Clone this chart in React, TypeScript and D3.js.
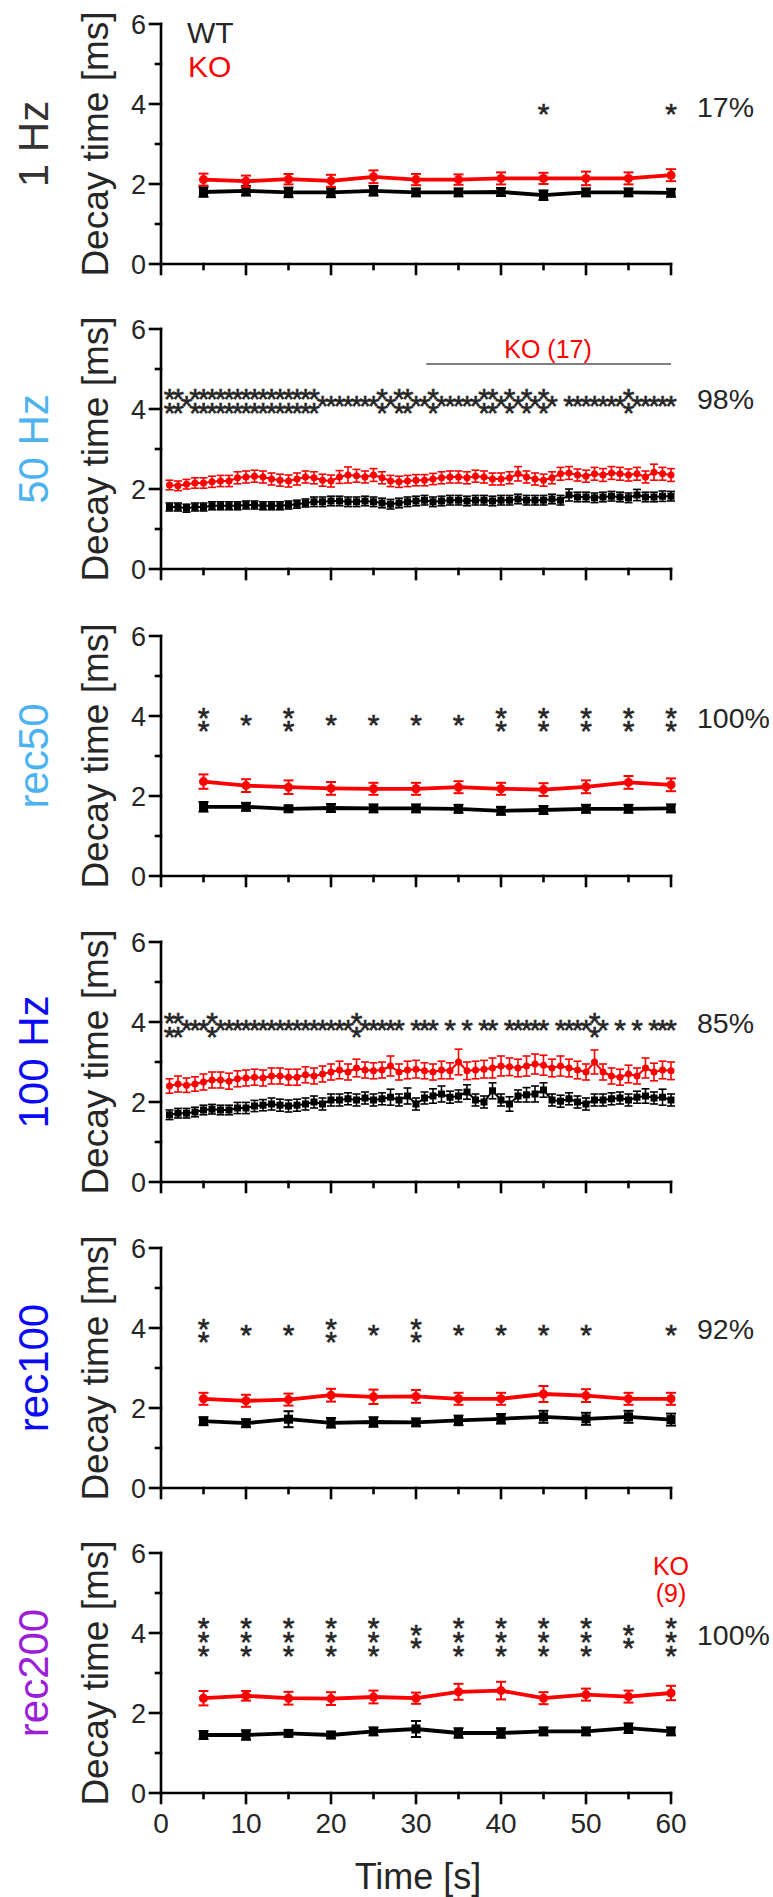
import React from 'react';
import * as d3 from 'd3';

const FONT = '"Liberation Sans", Arial, sans-serif';
const INK = '#262626';
const RED = '#ff0000';

// ---- time points ----
const TIME_5S = [5, 10, 15, 20, 25, 30, 35, 40, 45, 50, 55, 60];
const TIME_1S = [
  1, 2, 3, 4, 5, 6, 7, 8, 9, 10, 11, 12, 13, 14, 15, 16, 17, 18, 19, 20,
  21, 22, 23, 24, 25, 26, 27, 28, 29, 30, 31, 32, 33, 34, 35, 36, 37, 38, 39, 40,
  41, 42, 43, 44, 45, 46, 47, 48, 49, 50, 51, 52, 53, 54, 55, 56, 57, 58, 59, 60,
];

// ---- axis ticks ----
const X_MAJOR = [0, 10, 20, 30, 40, 50, 60];
const X_MINOR = [5, 15, 25, 35, 45, 55];
const Y_MAJOR = [0, 2, 4, 6];
const Y_MINOR = [1, 3, 5];

// ---- 1 Hz ----
const HZ1_WT = [1.80, 1.83, 1.79, 1.79, 1.83, 1.79, 1.79, 1.80, 1.72, 1.79, 1.79, 1.78];
const HZ1_WT_ERR = [0.12, 0.12, 0.12, 0.12, 0.12, 0.1, 0.1, 0.1, 0.12, 0.1, 0.1, 0.1];
const HZ1_KO = [2.11, 2.07, 2.12, 2.08, 2.18, 2.11, 2.11, 2.14, 2.14, 2.14, 2.14, 2.22];
const HZ1_KO_ERR = [0.15, 0.14, 0.13, 0.15, 0.16, 0.14, 0.13, 0.15, 0.14, 0.17, 0.15, 0.15];
const HZ1_SIG = [0, 0, 0, 0, 0, 0, 0, 0, 1, 0, 0, 1];

// ---- 50 Hz ----
const HZ50_WT = [
  1.55, 1.55, 1.52, 1.55, 1.55, 1.58, 1.58, 1.58, 1.58, 1.60,
  1.60, 1.58, 1.58, 1.58, 1.60, 1.62, 1.65, 1.68, 1.68, 1.70,
  1.70, 1.68, 1.68, 1.70, 1.68, 1.65, 1.62, 1.65, 1.68, 1.70,
  1.72, 1.68, 1.70, 1.72, 1.72, 1.70, 1.72, 1.72, 1.70, 1.72,
  1.72, 1.75, 1.72, 1.72, 1.72, 1.75, 1.72, 1.85, 1.80, 1.80,
  1.78, 1.80, 1.82, 1.80, 1.78, 1.85, 1.80, 1.80, 1.82, 1.82,
];
const HZ50_WT_ERR = [
  0.1, 0.1, 0.1, 0.1, 0.1, 0.1, 0.1, 0.1, 0.1, 0.1,
  0.1, 0.1, 0.1, 0.1, 0.1, 0.1, 0.1, 0.12, 0.12, 0.12,
  0.12, 0.12, 0.12, 0.12, 0.12, 0.12, 0.12, 0.12, 0.12, 0.12,
  0.12, 0.12, 0.12, 0.12, 0.12, 0.12, 0.12, 0.12, 0.12, 0.12,
  0.12, 0.12, 0.12, 0.12, 0.12, 0.12, 0.12, 0.15, 0.12, 0.12,
  0.12, 0.12, 0.12, 0.12, 0.12, 0.14, 0.12, 0.12, 0.13, 0.12,
];
const HZ50_KO = [
  2.10, 2.08, 2.12, 2.15, 2.15, 2.18, 2.20, 2.20, 2.28, 2.30,
  2.32, 2.30, 2.25, 2.22, 2.20, 2.25, 2.30, 2.28, 2.22, 2.20,
  2.30, 2.35, 2.33, 2.30, 2.35, 2.28, 2.20, 2.18, 2.20, 2.22,
  2.22, 2.25, 2.28, 2.30, 2.30, 2.28, 2.32, 2.30, 2.25, 2.25,
  2.28, 2.38, 2.30, 2.25, 2.22, 2.28, 2.38, 2.40, 2.35, 2.32,
  2.38, 2.35, 2.40, 2.38, 2.35, 2.38, 2.30, 2.42, 2.38, 2.35,
];
const HZ50_KO_ERR = [
  0.12, 0.12, 0.12, 0.13, 0.13, 0.14, 0.14, 0.14, 0.15, 0.15,
  0.15, 0.15, 0.15, 0.15, 0.15, 0.15, 0.15, 0.15, 0.15, 0.15,
  0.16, 0.2, 0.16, 0.15, 0.16, 0.15, 0.14, 0.14, 0.14, 0.14,
  0.14, 0.14, 0.15, 0.15, 0.15, 0.15, 0.15, 0.15, 0.15, 0.15,
  0.15, 0.18, 0.15, 0.15, 0.15, 0.15, 0.16, 0.16, 0.15, 0.15,
  0.16, 0.16, 0.16, 0.16, 0.15, 0.16, 0.15, 0.2, 0.16, 0.16,
];
const HZ50_SIG = [
  2, 2, 1, 2, 2, 2, 2, 2, 2, 2, 2, 2, 2, 2, 2, 2, 2, 2, 1, 1,
  1, 1, 1, 1, 1, 2, 1, 2, 2, 1, 1, 2, 1, 1, 1, 1, 1, 2, 2, 1,
  2, 1, 2, 1, 2, 1, 0, 1, 1, 1, 1, 1, 1, 1, 2, 1, 1, 1, 1, 1,
];

// ---- rec50 ----
const REC50_WT = [1.73, 1.73, 1.68, 1.70, 1.69, 1.69, 1.68, 1.63, 1.65, 1.68, 1.68, 1.69];
const REC50_WT_ERR = [0.12, 0.1, 0.08, 0.1, 0.1, 0.1, 0.1, 0.1, 0.1, 0.1, 0.1, 0.1];
const REC50_KO = [2.36, 2.26, 2.22, 2.19, 2.18, 2.18, 2.22, 2.18, 2.16, 2.23, 2.34, 2.28];
const REC50_KO_ERR = [0.18, 0.16, 0.17, 0.16, 0.15, 0.15, 0.15, 0.15, 0.16, 0.16, 0.16, 0.16];
const REC50_SIG = [2, 1, 2, 1, 1, 1, 1, 2, 2, 2, 2, 2];

// ---- 100 Hz ----
const HZ100_WT = [
  1.68, 1.72, 1.72, 1.75, 1.80, 1.82, 1.80, 1.80, 1.85, 1.85,
  1.90, 1.92, 1.95, 1.92, 1.90, 1.92, 1.95, 2.00, 1.95, 2.05,
  2.05, 2.08, 2.05, 2.10, 2.05, 2.08, 2.12, 2.05, 2.15, 1.95,
  2.10, 2.15, 2.20, 2.12, 2.15, 2.25, 2.05, 2.00, 2.28, 2.05,
  1.95, 2.15, 2.18, 2.20, 2.30, 2.05, 2.02, 2.08, 2.00, 1.95,
  2.05, 2.05, 2.08, 2.10, 2.05, 2.12, 2.15, 2.10, 2.12, 2.05,
];
const HZ100_WT_ERR = [
  0.12, 0.12, 0.12, 0.12, 0.12, 0.12, 0.12, 0.12, 0.14, 0.14,
  0.14, 0.14, 0.15, 0.15, 0.15, 0.15, 0.15, 0.15, 0.15, 0.15,
  0.15, 0.15, 0.15, 0.15, 0.15, 0.15, 0.2, 0.15, 0.2, 0.15,
  0.15, 0.18, 0.2, 0.15, 0.15, 0.18, 0.15, 0.15, 0.2, 0.15,
  0.18, 0.15, 0.18, 0.2, 0.18, 0.15, 0.15, 0.15, 0.15, 0.15,
  0.15, 0.15, 0.15, 0.15, 0.15, 0.15, 0.18, 0.15, 0.2, 0.15,
];
const HZ100_KO = [
  2.40, 2.45, 2.42, 2.45, 2.50, 2.55, 2.55, 2.52, 2.58, 2.60,
  2.62, 2.60, 2.65, 2.65, 2.62, 2.62, 2.68, 2.65, 2.70, 2.75,
  2.80, 2.75, 2.85, 2.80, 2.78, 2.80, 2.90, 2.75, 2.80, 2.82,
  2.78, 2.75, 2.80, 2.78, 3.00, 2.78, 2.80, 2.82, 2.85, 2.90,
  2.88, 2.85, 2.90, 2.95, 2.92, 2.85, 2.90, 2.85, 2.80, 2.75,
  3.00, 2.75, 2.65, 2.62, 2.70, 2.65, 2.85, 2.75, 2.80, 2.78,
];
const HZ100_KO_ERR = [
  0.18, 0.2, 0.18, 0.18, 0.2, 0.2, 0.2, 0.2, 0.2, 0.2,
  0.2, 0.2, 0.2, 0.2, 0.2, 0.2, 0.2, 0.2, 0.2, 0.2,
  0.22, 0.2, 0.22, 0.2, 0.2, 0.2, 0.25, 0.2, 0.22, 0.22,
  0.2, 0.2, 0.22, 0.2, 0.32, 0.22, 0.22, 0.22, 0.25, 0.25,
  0.22, 0.22, 0.25, 0.25, 0.25, 0.22, 0.25, 0.22, 0.22, 0.2,
  0.3, 0.2, 0.2, 0.2, 0.22, 0.2, 0.25, 0.22, 0.22, 0.22,
];
const HZ100_SIG = [
  2, 2, 1, 1, 1, 2, 1, 1, 1, 1, 1, 1, 1, 1, 1, 1, 1, 1, 1, 1,
  1, 1, 2, 1, 1, 1, 1, 1, 0, 1, 1, 1, 0, 1, 0, 1, 0, 1, 1, 0,
  1, 1, 1, 1, 1, 0, 1, 1, 1, 1, 2, 1, 0, 1, 0, 1, 0, 1, 1, 1,
];

// ---- rec100 ----
const REC100_WT = [1.67, 1.62, 1.72, 1.63, 1.65, 1.64, 1.69, 1.73, 1.78, 1.73, 1.78, 1.71];
const REC100_WT_ERR = [0.1, 0.1, 0.2, 0.12, 0.12, 0.1, 0.12, 0.12, 0.15, 0.15, 0.15, 0.15];
const REC100_KO = [2.23, 2.18, 2.21, 2.32, 2.28, 2.29, 2.23, 2.23, 2.35, 2.31, 2.23, 2.23];
const REC100_KO_ERR = [0.15, 0.15, 0.15, 0.16, 0.18, 0.16, 0.15, 0.15, 0.2, 0.16, 0.15, 0.15];
const REC100_SIG = [2, 1, 1, 2, 1, 2, 1, 1, 1, 1, 0, 1];

// ---- rec200 ----
const REC200_WT = [1.45, 1.45, 1.49, 1.45, 1.54, 1.60, 1.50, 1.50, 1.54, 1.54, 1.62, 1.54];
const REC200_WT_ERR = [0.1, 0.12, 0.08, 0.08, 0.1, 0.2, 0.12, 0.12, 0.1, 0.1, 0.12, 0.1];
const REC200_KO = [2.37, 2.43, 2.37, 2.36, 2.40, 2.37, 2.53, 2.56, 2.37, 2.46, 2.41, 2.50];
const REC200_KO_ERR = [0.18, 0.12, 0.16, 0.16, 0.16, 0.14, 0.2, 0.22, 0.15, 0.15, 0.15, 0.18];
const REC200_SIG = [3, 3, 3, 3, 3, 2, 3, 3, 3, 3, 2, 3];

// ---- layout ----
const W = 773;
const H = 1897;
const X0 = 161;
const X1 = 671;
const PANEL_H = 240;
const PANEL_TOPS = [24, 329, 636, 942, 1248, 1553];

type Panel = {
  label: string;
  labelColor: string;
  t: number[];
  wt: number[];
  wtErr: number[];
  ko: number[];
  koErr: number[];
  sig: number[];
  sigLevel: number;
  pct: string;
  dense: boolean;
};

const PANELS: Panel[] = [
  { label: '1 Hz', labelColor: '#333333', t: TIME_5S, wt: HZ1_WT, wtErr: HZ1_WT_ERR, ko: HZ1_KO, koErr: HZ1_KO_ERR, sig: HZ1_SIG, sigLevel: 3.93, pct: '17%', dense: false },
  { label: '50 Hz', labelColor: '#4db3f0', t: TIME_1S, wt: HZ50_WT, wtErr: HZ50_WT_ERR, ko: HZ50_KO, koErr: HZ50_KO_ERR, sig: HZ50_SIG, sigLevel: 4.27, pct: '98%', dense: true },
  { label: 'rec50', labelColor: '#4db3f0', t: TIME_5S, wt: REC50_WT, wtErr: REC50_WT_ERR, ko: REC50_KO, koErr: REC50_KO_ERR, sig: REC50_SIG, sigLevel: 3.97, pct: '100%', dense: false },
  { label: '100 Hz', labelColor: '#0a0af5', t: TIME_1S, wt: HZ100_WT, wtErr: HZ100_WT_ERR, ko: HZ100_KO, koErr: HZ100_KO_ERR, sig: HZ100_SIG, sigLevel: 3.98, pct: '85%', dense: true },
  { label: 'rec100', labelColor: '#0a0af5', t: TIME_5S, wt: REC100_WT, wtErr: REC100_WT_ERR, ko: REC100_KO, koErr: REC100_KO_ERR, sig: REC100_SIG, sigLevel: 4.0, pct: '92%', dense: false },
  { label: 'rec200', labelColor: '#9b1fd6', t: TIME_5S, wt: REC200_WT, wtErr: REC200_WT_ERR, ko: REC200_KO, koErr: REC200_KO_ERR, sig: REC200_SIG, sigLevel: 3.97, pct: '100%', dense: false },
];

const x = d3.scaleLinear().domain([0, 60]).range([X0, X1]);
const y = d3.scaleLinear().domain([0, 6]).range([PANEL_H, 0]);

function Series({ t, v, err, color, marker, dense }: { t: number[]; v: number[]; err: number[]; color: string; marker: 'circle' | 'square'; dense: boolean }) {
  const line = d3.line<number>().x((_, i) => x(t[i])).y((d) => y(d));
  const lw = dense ? 2 : 3.8;
  const cap = dense ? 4 : 5;
  const ms = dense ? 7 : 9;
  return (
    <g>
      <path d={line(v) || ''} fill="none" stroke={color} strokeWidth={lw} strokeLinejoin="round" />
      {v.map((d, i) => {
        const cx = x(t[i]);
        const yt = y(d + err[i]);
        const yb = y(d - err[i]);
        return (
          <g key={i} stroke={color} strokeWidth={dense ? 1.6 : 2} fill="none">
            <line x1={cx} x2={cx} y1={yt} y2={yb} />
            <line x1={cx - cap} x2={cx + cap} y1={yt} y2={yt} />
            <line x1={cx - cap} x2={cx + cap} y1={yb} y2={yb} />
          </g>
        );
      })}
      {v.map((d, i) => {
        const cx = x(t[i]);
        const cy = y(d);
        return marker === 'circle' ? (
          <circle key={i} cx={cx} cy={cy} r={ms / 2} fill={color} />
        ) : (
          <rect key={i} x={cx - ms / 2} y={cy - ms / 2} width={ms} height={ms} fill={color} />
        );
      })}
    </g>
  );
}

// each stack of significance stars is one text element (one line per star)
function Stars({ p }: { p: Panel }) {
  const fs = 30;
  const glyphCenter = 0.58 * fs;
  const cy = y(p.sigLevel);
  return (
    <g>
      {p.sig.map((n, i) => {
        if (!n) return null;
        const cx = x(p.t[i]);
        const step = p.dense ? 14 : n === 3 ? 14 : 13;
        const first = cy - ((n - 1) / 2) * step + glyphCenter;
        return (
          <text key={i} x={cx} y={first} textAnchor="middle" fontSize={fs} fill={INK} stroke={INK} strokeWidth={0.6} fontFamily={FONT}>
            {Array.from({ length: n }, (_, k) => (
              <tspan key={k} x={cx} dy={k === 0 ? 0 : step}>
                *
              </tspan>
            ))}
          </text>
        );
      })}
    </g>
  );
}

function PanelView({ p, top, last }: { p: Panel; top: number; last: boolean }) {
  const mid = PANEL_H / 2;
  return (
    <g transform={`translate(0,${top})`}>
      {/* big condition label */}
      <text transform={`translate(48,${mid}) rotate(-90)`} textAnchor="middle" fontSize={42} fill={p.labelColor} fontFamily={FONT}>
        {p.label}
      </text>
      <text transform={`translate(108,${mid}) rotate(-90)`} textAnchor="middle" fontSize={37} fill={INK} fontFamily={FONT}>
        Decay time [ms]
      </text>
      {/* axes */}
      <g stroke="#000" strokeWidth={2.6} fill="none" strokeLinecap="square">
        <line x1={X0} x2={X0} y1={y(6)} y2={y(0)} />
        <line x1={X0} x2={X1} y1={y(0)} y2={y(0)} />
        {Y_MAJOR.map((v) => (
          <line key={`ym${v}`} x1={X0 - 11} x2={X0} y1={y(v)} y2={y(v)} />
        ))}
        {Y_MINOR.map((v) => (
          <line key={`yn${v}`} x1={X0 - 5} x2={X0} y1={y(v)} y2={y(v)} />
        ))}
        {X_MAJOR.map((v) => (
          <line key={`xm${v}`} x1={x(v)} x2={x(v)} y1={y(0)} y2={y(0) + 10} />
        ))}
        {X_MINOR.map((v) => (
          <line key={`xn${v}`} x1={x(v)} x2={x(v)} y1={y(0)} y2={y(0) + 5} />
        ))}
      </g>
      {Y_MAJOR.map((v) => (
        <text key={`yl${v}`} x={X0 - 15} y={y(v) + 9.5} textAnchor="end" fontSize={27} fill={INK} fontFamily={FONT}>
          {v}
        </text>
      ))}
      {last &&
        X_MAJOR.map((v) => (
          <text key={`xl${v}`} x={x(v)} y={y(0) + 40} textAnchor="middle" fontSize={28} fill={INK} fontFamily={FONT}>
            {v}
          </text>
        ))}
      <Series t={p.t} v={p.wt} err={p.wtErr} color="#000" marker="square" dense={p.dense} />
      <Series t={p.t} v={p.ko} err={p.koErr} color={RED} marker="circle" dense={p.dense} />
      <Stars p={p} />
      <text x={697} y={y(p.sigLevel) + 10.5} fontSize={28.5} fill={INK} fontFamily={FONT}>
        {p.pct}
      </text>
    </g>
  );
}

export default function App() {
  return (
    <svg width={W} height={H} viewBox={`0 0 ${W} ${H}`} style={{ position: 'absolute', left: 0, top: 0, background: '#fff' }}>
      <rect width={W} height={H} fill="#fff" />
      {PANELS.map((p, i) => (
        <PanelView key={p.label} p={p} top={PANEL_TOPS[i]} last={i === PANELS.length - 1} />
      ))}
      {/* legend */}
      <text x={187} y={43} fontSize={30} fill={INK} fontFamily={FONT}>WT</text>
      <text x={188} y={77} fontSize={30} fill={RED} fontFamily={FONT}>KO</text>
      {/* 50 Hz annotation */}
      <text x={548} y={358} textAnchor="middle" fontSize={25} fill={RED} fontFamily={FONT}>KO (17)</text>
      <line x1={x(31.2)} x2={x(60)} y1={364} y2={364} stroke="#808080" strokeWidth={2} />
      {/* rec200 annotation */}
      <text x={x(60)} y={1575} textAnchor="middle" fontSize={25} fill={RED} fontFamily={FONT}>KO</text>
      <text x={x(60)} y={1602} textAnchor="middle" fontSize={25} fill={RED} fontFamily={FONT}>(9)</text>
      <text x={418} y={1889} textAnchor="middle" fontSize={36} fill={INK} fontFamily={FONT}>Time [s]</text>
    </svg>
  );
}
